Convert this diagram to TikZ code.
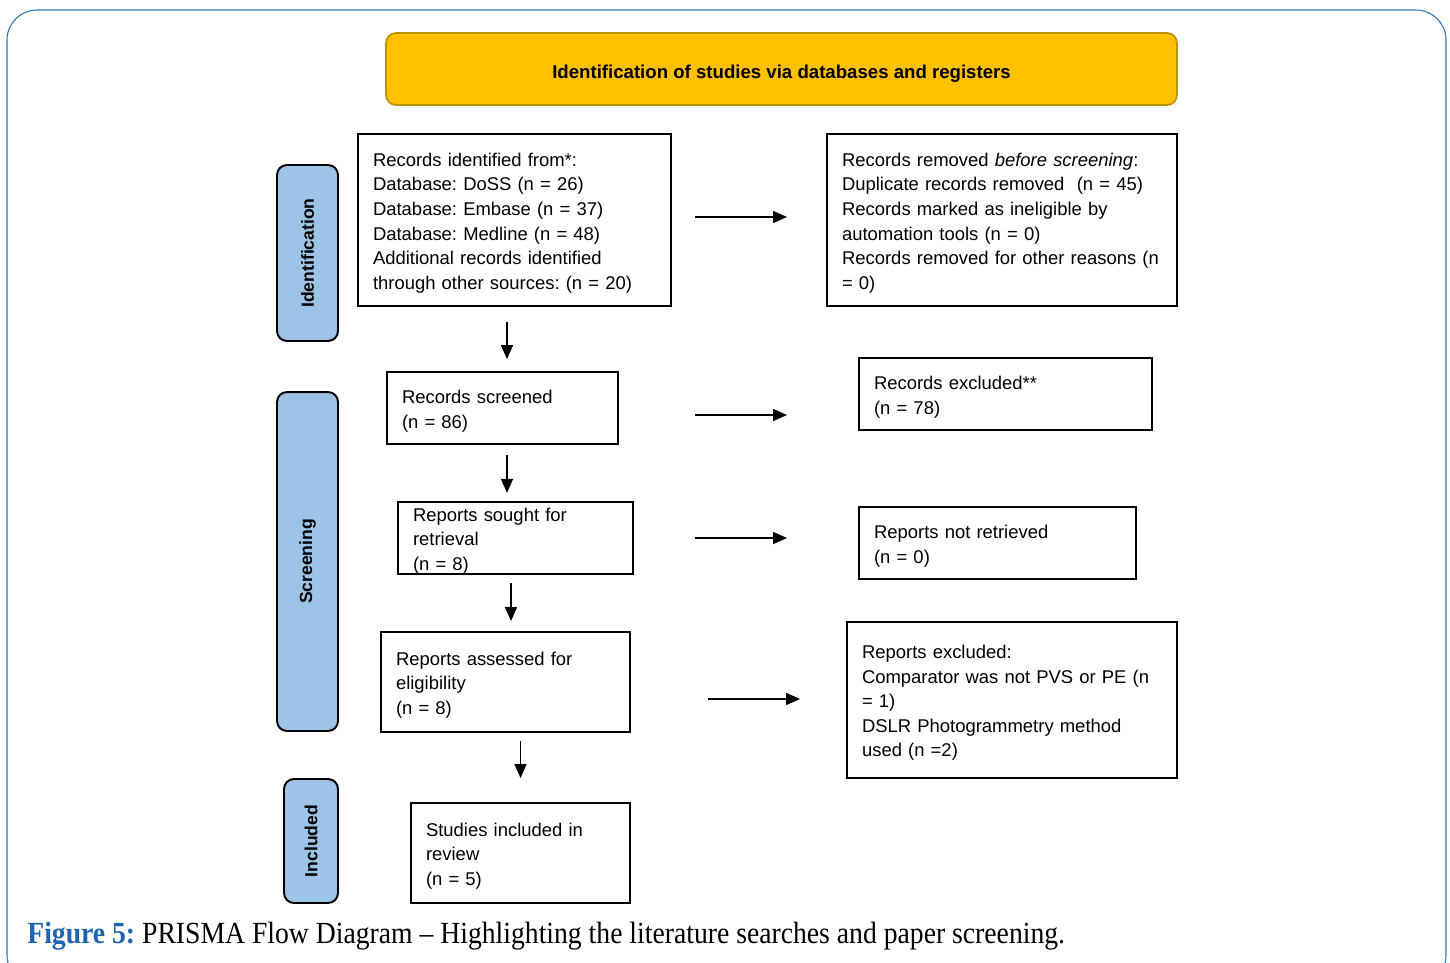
\documentclass[tikz,border=0pt]{standalone}
\usepackage{fontspec}
\setmainfont{Liberation Sans}
\newfontfamily\captionfont[FakeStretch=0.90]{Liberation Serif}
\usetikzlibrary{calc,positioning,arrows.meta}
\definecolor{bannerfill}{HTML}{FFC000}
\definecolor{bannerline}{HTML}{BF9000}
\definecolor{stagefill}{HTML}{9DC3E6}
\definecolor{framecolor}{HTML}{2E75B6}
\definecolor{figblue}{HTML}{1F64B0}
\frenchspacing

\begin{document}
\begin{tikzpicture}[
  x=0.02cm, y=-0.02cm,
  font=\fontsize{10.5}{14}\selectfont,
  flowbox/.style={draw=black, line width=1.1pt, inner xsep=0.3cm, inner ysep=0pt,
    align=left, text height=11pt},
  stagebox/.style={draw=black, line width=1.1pt, fill=stagefill, rounded corners=0.2cm, inner sep=0pt},
  stagetext/.style={rotate=90, font=\fontsize{10}{12}\selectfont\bfseries},
  flowarrow/.style={-{Triangle[length=0.28cm,width=0.24cm]}, line width=0.75pt},
  ]

  \useasboundingbox (0,0) rectangle (1450,963);
  \clip (0,0) rectangle (1450,963);

  % outer frame
  \draw[framecolor, line width=0.6pt, rounded corners=0.6cm] (7,10) rectangle (1446,985);

  % banner
  \node (banner) [draw=bannerline, line width=1pt, fill=bannerfill, rounded corners=0.2cm,
    minimum width=15.82cm, minimum height=1.44cm, text height=13.2pt, text depth=2.3pt,
    font=\fontsize{10.6}{13}\selectfont\bfseries]
    at (781.5,69) {Identification of studies via databases and registers};

  % stage labels
  \node (stage_ident) [stagebox, minimum width=1.22cm, minimum height=3.52cm] at (307.5,253) {};
  \node [stagetext] at (stage_ident.center) {Identification};
  \node (stage_screen) [stagebox, minimum width=1.22cm, minimum height=6.78cm] at (307.5,561.5) {};
  \node [stagetext] at (stage_screen.center) {Screening};
  \node (stage_incl) [stagebox, minimum width=1.08cm, minimum height=2.48cm] at (311,841) {};
  \node [stagetext] at (stage_incl.center) {Included};

  % left column
  \node (records) [flowbox, text width=5.66cm, minimum height=3.44cm] at (514.5,220)
    {Records identified from*:\\ Database: DoSS (n = 26)\\ Database: Embase (n = 37)\\
     Database: Medline (n = 48)\\ Additional records identified\\ through other sources: (n = 20)};
  \node (screened) [flowbox, text width=4.02cm, minimum height=1.44cm] at (502.5,408)
    {Records screened\\ (n = 86)};
  \node (sought) [flowbox, text width=4.10cm, minimum height=1.44cm] at (515.5,538)
    {Reports sought for\\ retrieval\\ (n = 8)};
  \node (assessed) [flowbox, text width=4.38cm, minimum height=2.0cm] at (505.5,682)
    {Reports assessed for\\ eligibility\\ (n = 8)};
  \node (included) [flowbox, text width=3.78cm, minimum height=2.0cm] at (520.5,853)
    {Studies included in\\ review\\ (n = 5)};

  % right column
  \node (removed) [flowbox, text width=6.40cm, minimum height=3.44cm] at (1002,220)
    {Records removed \textit{before screening}:\\ Duplicate records removed\ \ (n = 45)\\
     Records marked as ineligible by\\ automation tools (n = 0)\\
     \mbox{Records removed for other reasons (n}\\ = 0)};
  \node (excluded) [flowbox, text width=5.26cm, minimum height=1.44cm] at (1005.5,394)
    {Records excluded**\\ (n = 78)};
  \node (notretrieved) [flowbox, text width=4.94cm, minimum height=1.44cm] at (997.5,543)
    {Reports not retrieved\\ (n = 0)};
  \node (repexcluded) [flowbox, text width=6.00cm, minimum height=3.12cm] at (1012,700)
    {Reports excluded:\\ Comparator was not PVS or PE (n\\ = 1)\\
     DSLR Photogrammetry method\\ used (n =2)};

  % downward arrows
  \draw[flowarrow, shorten <=0.3cm, shorten >=0.24cm]
    ([xshift=0.09cm]screened.north |- records.south) -- ([xshift=0.09cm]screened.north);
  \draw[flowarrow, shorten <=0.2cm, shorten >=0.16cm]
    ([xshift=0.09cm]screened.south) -- ([xshift=0.09cm]screened.south |- sought.north);
  \draw[flowarrow, shorten <=0.16cm, shorten >=0.2cm]
    ([xshift=-0.09cm]sought.south) -- ([xshift=-0.09cm]sought.south |- assessed.north);
  \draw[flowarrow, shorten <=0.16cm, shorten >=0.48cm]
    (included.north |- assessed.south) -- (included.north);

  % sideways arrows
  \draw[flowarrow, shorten <=0.46cm, shorten >=0.78cm]
    ([yshift=0.06cm]records.east) -- ([yshift=0.06cm]records.east -| removed.west);
  \draw[flowarrow, shorten <=1.52cm, shorten >=1.42cm]
    ([yshift=-0.14cm]screened.east) -- ([yshift=-0.14cm]screened.east -| excluded.west);
  \draw[flowarrow, shorten <=1.22cm, shorten >=1.42cm]
    (sought.east) -- (sought.east -| notretrieved.west);
  \draw[flowarrow, shorten <=1.54cm, shorten >=0.92cm]
    ([yshift=-0.34cm]assessed.east) -- ([yshift=-0.34cm]assessed.east -| repexcluded.west);

  % caption
  \node (caption) [anchor=base west, inner sep=0pt] at (27,943)
    {\captionfont\fontsize{17.5}{20}\selectfont\textcolor{figblue}{\bfseries Figure 5:}
     PRISMA Flow Diagram – Highlighting the literature searches and paper screening.};

\end{tikzpicture}
\end{document}
